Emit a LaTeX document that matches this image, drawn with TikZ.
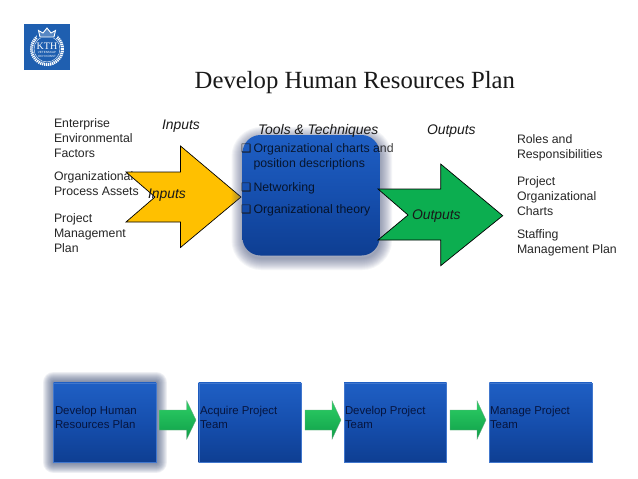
\documentclass[tikz,border=0pt]{standalone}
\usepackage{fontspec}
\setmainfont{Liberation Sans}
\newfontfamily\titlefont{Liberation Serif}
\newfontfamily\symfont{DejaVu Sans}
\usetikzlibrary{shadings}
\definecolor{kthblue}{HTML}{1F5FB0}
\definecolor{boxtop}{HTML}{1F5FC4}
\definecolor{boxmid}{HTML}{164FAE}
\definecolor{boxbot}{HTML}{0E3E92}
\definecolor{halo}{HTML}{3F4F78}
\definecolor{navytext}{HTML}{06153F}
\definecolor{bigyellow}{HTML}{FFC000}
\definecolor{biggreen}{HTML}{0CAE50}
\definecolor{smalltop}{HTML}{2ED066}
\definecolor{smallbot}{HTML}{0E9E48}
\tikzset{
  x=1pt,y=-1pt,
  label/.style={anchor=base west,inner sep=0pt,outer sep=0pt,align=left,font=\fontsize{12.3}{15}\selectfont,text=black!85},
  head/.style={anchor=base west,inner sep=0pt,outer sep=0pt,font=\fontsize{13.9}{15}\selectfont\itshape,text=black!90},
  toolitem/.style={anchor=base west,inner sep=0pt,outer sep=0pt,align=left,font=\fontsize{12.3}{15}\selectfont,text=black,text opacity=.75},
  bull/.style={anchor=base west,inner sep=0pt,outer sep=0pt,font=\fontsize{11.5}{12}\selectfont\symfont,text=black!90},
  stage/.style={anchor=north west,inner sep=0pt,outer sep=0pt,minimum width=102.5pt,minimum height=79.5pt,
    top color=boxtop,bottom color=boxbot,middle color=boxmid,draw=boxtop!85!white,line width=.4pt},
  stagetext/.style={anchor=base west,inner sep=0pt,outer sep=0pt,align=left,font=\fontsize{11.4}{14}\selectfont,text=navytext},
  bigarrow/.style={draw=black,line width=.7pt,line join=miter},
  smallarrow/.style={top color=smalltop,bottom color=smallbot,draw=smallbot!70!black!60,line width=.3pt},
}
\begin{document}
\begin{tikzpicture}
\useasboundingbox[fill=white] (0,0) rectangle (638,479);

% logo
\fill[kthblue] (23.5,23.5) rectangle (70,70);
\draw[white,line width=3pt,dash pattern=on 1.2pt off .8pt] (47,49) circle (15.5);
\draw[white,line width=.4pt] (47,49) circle (13);
\fill[kthblue] (37,26) rectangle (57,37.5);
\draw[white,line width=.9pt,fill=white,fill opacity=.25] (40,37) -- (38.5,30.5) -- (43,33) -- (47,28) -- (51,33) -- (55.5,30.5) -- (54,37) -- cycle;
\node (kth) at (47,46.5) [inner sep=0pt,text=white,font=\fontsize{10}{10}\selectfont\titlefont] {KTH};
\node (kthsub) at (47,54.5) [inner sep=0pt,text=white,align=center,font=\fontsize{3}{3.6}\selectfont] {VETENSKAP\\OCH KONST};

% title
\node (title) at (194.5,88.5) [anchor=base west,inner sep=0pt,font=\fontsize{24.7}{26}\selectfont\titlefont,text=black!90] {Develop Human Resources Plan};

% left labels
\node[label] (enterprise) at (54,157) {Enterprise\\Environmental\\Factors};
\node[label] (process) at (54,195) {Organizational\\Process Assets};
\node[label] (pmp) at (54,252) {Project\\Management\\Plan};

% yellow arrow
\draw[bigarrow,fill=bigyellow] (126,172) -- (180.5,172) -- (180.5,146) -- (241,197) -- (180.5,247.5) -- (180.5,222) -- (126,222) -- (155,197) -- cycle;
\node[head] (inputsA) at (162,129) {Inputs};
\node[head] (inputsB) at (148,198) {Inputs};

% central box
\foreach \w in {24,22,20,18,16,14,12,10,8,6,4,2}{
  \draw[halo,opacity=.055,line width=\w pt,rounded corners=18pt] (243.5,139) rectangle (380,258);
}
\shade[top color=boxtop,bottom color=boxbot,middle color=boxmid,rounded corners=18pt] (242.5,135) rectangle (379.5,255.5);
\node (toolsbox) at (311,195) [inner sep=0pt,minimum width=137pt,minimum height=120pt] {};
\node[head] (tools) at (258,134) {Tools \& Techniques};

\node[bull] (b1) at (241,152) {❑};
\node[toolitem] (t1) at (253.5,167) {Organizational charts and\\position descriptions};
\node[bull] (b2) at (241,191) {❑};
\node[toolitem] (t2) at (253.5,191) {Networking};
\node[bull] (b3) at (241,213) {❑};
\node[toolitem] (t3) at (253.5,213) {Organizational theory};

% green arrow
\draw[bigarrow,fill=biggreen] (378,189) -- (440.7,189) -- (440.7,164) -- (502.7,215.7) -- (440.7,265.7) -- (440.7,240) -- (378,240) -- (408,215) -- cycle;
\node[head] (outputsA) at (427,134) {Outputs};
\node[head] (outputsB) at (412,219) {Outputs};

% right labels
\node[label] (roles) at (517,158) {Roles and\\Responsibilities};
\node[label] (charts) at (517,215) {Project\\Organizational\\Charts};
\node[label] (staffing) at (517,253) {Staffing\\Management Plan};

% bottom row
\foreach \w in {22,20,18,16,14,12,10,8,6,4,2}{
  \draw[halo,opacity=.085,line width=\w pt,line join=round] (53.5,382.7) rectangle (156,462.2);
}
\node[stage] (s1) at (53.5,382.7) {};
\node[stage] (s2) at (198.7,382.7) {};
\node[stage] (s3) at (344,382.7) {};
\node[stage] (s4) at (489.3,382.7) {};

\node[stagetext] (s1t) at (55,428) {Develop Human\\Resources Plan};
\node[stagetext] (s2t) at (200,428) {Acquire Project\\Team};
\node[stagetext] (s3t) at (345,428) {Develop Project\\Team};
\node[stagetext] (s4t) at (490,428) {Manage Project\\Team};

\shade[smallarrow] (159.3,410) -- (186.7,410) -- (186.7,400.7) -- (196,420) -- (186.7,439.3) -- (186.7,430) -- (159.3,430) -- cycle;
\shade[smallarrow] (305,410) -- (332,410) -- (332,400.7) -- (341,420) -- (332,439.3) -- (332,430) -- (305,430) -- cycle;
\shade[smallarrow] (450,410) -- (477,410) -- (477,400.7) -- (486,420) -- (477,439.3) -- (477,430) -- (450,430) -- cycle;
\end{tikzpicture}
\end{document}
